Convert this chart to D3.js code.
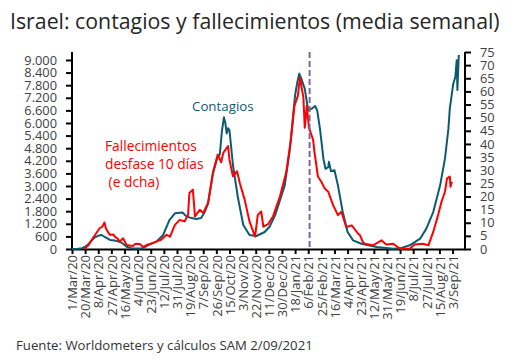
<!DOCTYPE html>
<html>
<head>
<meta charset="utf-8">
<script src="https://cdn.jsdelivr.net/npm/d3@7"></script>
<style>
  body { margin: 0; background: #fff; }
  text { font-family: "Open Sans", sans-serif; }
</style>
</head>
<body>
<svg id="chart" width="518" height="363"></svg>
<script>

// contagios, media semanal (eje izquierdo)
var casesDates = [
  "2020-03-01","2020-03-10","2020-03-16","2020-03-22","2020-03-28","2020-04-03","2020-04-09","2020-04-13",
  "2020-04-18","2020-04-25","2020-05-02","2020-05-09","2020-05-14","2020-05-19","2020-05-26","2020-06-05",
  "2020-06-11","2020-06-20","2020-07-01","2020-07-11","2020-07-20","2020-07-28","2020-08-04","2020-08-08",
  "2020-08-14","2020-08-21","2020-08-28","2020-09-04","2020-09-09","2020-09-14","2020-09-21","2020-09-27",
  "2020-10-01","2020-10-04","2020-10-07","2020-10-09","2020-10-11","2020-10-13","2020-10-15","2020-10-17",
  "2020-10-20","2020-10-27","2020-11-04","2020-11-13","2020-11-23","2020-12-05","2020-12-12","2020-12-20",
  "2021-01-03","2021-01-10","2021-01-18","2021-01-21","2021-01-24","2021-01-27","2021-02-01","2021-02-04",
  "2021-02-06","2021-02-11","2021-02-16","2021-02-19","2021-02-23","2021-02-28","2021-03-03","2021-03-07",
  "2021-03-08","2021-03-11","2021-03-16","2021-03-21","2021-03-28","2021-04-04","2021-04-12","2021-04-24",
  "2021-05-16","2021-06-09","2021-06-19","2021-07-03","2021-07-18","2021-07-27","2021-08-06","2021-08-16",
  "2021-08-23","2021-08-28","2021-08-30","2021-09-04","2021-09-07","2021-09-09","2021-09-10","2021-09-12"
];
var casesValues = [
  0, 10, 40, 150, 350, 560, 640, 667,
  560, 430, 400, 350, 250, 110, 40, 20,
  30, 200, 350, 670, 1380, 1700, 1730, 1740,
  1540, 1480, 1430, 1480, 1750, 2170, 3600, 4300,
  4500, 5600, 6270, 6000, 5500, 5750, 5650, 5000,
  4000, 2490, 1140, 670, 620, 810, 1060, 1600,
  3030, 4620, 7320, 7900, 8350, 8110, 7630, 7000,
  6600, 6680, 6810, 6600, 5730, 4300, 3820, 3900,
  4150, 3700, 3750, 3030, 1760, 810, 410, 250,
  95, 15, 30, 175, 490, 970, 1760, 3030,
  4300, 5730, 6680, 7870, 8190, 8990, 7570, 9240
];

// fallecimientos con desfase de 10 dias (eje derecho)
var deathsDates = [
  "2020-03-19","2020-03-25","2020-03-31","2020-04-05","2020-04-10","2020-04-14","2020-04-17","2020-04-19",
  "2020-04-22","2020-04-25","2020-04-30","2020-05-02","2020-05-06","2020-05-09","2020-05-14","2020-05-19",
  "2020-05-28","2020-06-01","2020-06-07","2020-06-12","2020-06-17","2020-06-25","2020-07-01","2020-07-08",
  "2020-07-16","2020-07-21","2020-07-28","2020-08-04","2020-08-11","2020-08-16","2020-08-18","2020-08-23",
  "2020-08-26","2020-09-02","2020-09-07","2020-09-14","2020-09-21","2020-09-28","2020-10-03","2020-10-06",
  "2020-10-13","2020-10-15","2020-10-20","2020-10-26","2020-10-30","2020-11-06","2020-11-13","2020-11-21",
  "2020-11-25","2020-11-30","2020-12-03","2020-12-10","2020-12-17","2020-12-27","2021-01-05","2021-01-12",
  "2021-01-17","2021-01-22","2021-01-25","2021-01-30","2021-02-01","2021-02-04","2021-02-07","2021-02-13",
  "2021-02-15","2021-02-18","2021-02-20","2021-02-25","2021-03-02","2021-03-07","2021-03-14","2021-03-21",
  "2021-03-26","2021-04-02","2021-04-10","2021-04-19","2021-04-22","2021-04-26","2021-04-29","2021-05-11",
  "2021-05-23","2021-05-30","2021-06-09","2021-06-19","2021-07-03","2021-07-10","2021-07-22","2021-07-30",
  "2021-08-06","2021-08-13","2021-08-18","2021-08-23","2021-08-26","2021-08-30","2021-08-31","2021-09-02"
];
var deathsValues = [
  0, 1.5, 4.1, 6, 7.9, 8.5, 10.1, 7.9,
  6.5, 5.4, 5.5, 4.7, 4.0, 2.8, 4.1, 1.5,
  1.1, 2.0, 1.9, 0.8, 1.5, 2.2, 2.8, 3.5,
  5.4, 4.7, 9.2, 11.1, 10.5, 13, 21.3, 22.6,
  12.4, 14.9, 13.7, 17.5, 29, 36, 33, 36.6,
  39.2, 34, 27.7, 29.6, 25, 18.8, 10.5, 4.7,
  13, 14.3, 8.5, 9.5, 12.4, 20, 29, 41.7,
  54.5, 58.3, 65.3, 57.7, 46.2, 54.5, 46.2, 41.7,
  37, 31.5, 27.6, 25.6, 23, 21.8, 16.7, 12.9,
  14.2, 8.4, 9, 5.9, 5.2, 2.7, 2.0, 1.4,
  3.3, 1.7, 2.0, 0.1, 0.1, 1.7, 2.0, 1.4,
  6.5, 12.9, 18, 21.8, 26.9, 27.6, 23.7, 25.6
];

var xTickDates = [
  "2020-03-01","2020-03-20","2020-04-08","2020-04-27","2020-05-16","2020-06-04","2020-06-23","2020-07-12",
  "2020-07-31","2020-08-19","2020-09-07","2020-09-26","2020-10-15","2020-11-03","2020-11-22","2020-12-11",
  "2020-12-30","2021-01-18","2021-02-06","2021-02-25","2021-03-16","2021-04-04","2021-04-23","2021-05-12",
  "2021-05-31","2021-06-19","2021-07-08","2021-07-27","2021-08-15","2021-09-03"
];
var leftTicks = [0, 600, 1200, 1800, 2400, 3000, 3600, 4200, 4800, 5400, 6000, 6600, 7200, 7800, 8400, 9000];
var rightTicks = [0, 5, 10, 15, 20, 25, 30, 35, 40, 45, 50, 55, 60, 65, 70, 75];

var markerDate = "2021-02-08";

var chart = {};

function setup() {
  var parse = d3.utcParse("%Y-%m-%d");
  var fmtX = d3.utcFormat("%-d/%b/%y");
  var fmtL = d3.formatLocale({decimal: ",", thousands: ".", grouping: [3], currency: ["", "€"]}).format(",");

  chart.plot = {left: 72, right: 465, top: 52, bottom: 249};

  chart.x = d3.scaleUtc()
      .domain([parse("2020-03-01"), parse("2021-09-21")])
      .range([chart.plot.left, chart.plot.right]);
  chart.yL = d3.scaleLinear().domain([0, 9380]).range([chart.plot.bottom, chart.plot.top]);
  chart.yR = d3.scaleLinear().domain([0, 75]).range([chart.plot.bottom, chart.plot.top]);

  var svg = d3.select("#chart");

  svg.append("text")
      .attr("x", 10).attr("y", 29)
      .attr("font-size", 21.3)
      .attr("fill", "#262626")
      .text("Israel: contagios y fallecimientos (media semanal)");

  svg.append("text")
      .attr("x", 16).attr("y", 350)
      .attr("font-size", 13.2)
      .attr("fill", "#333")
      .text("Fuente: Worldometers y cálculos SAM 2/09/2021");

  // axes
  var axL = svg.append("g")
      .attr("transform", `translate(${chart.plot.left},0)`)
      .call(d3.axisLeft(chart.yL).tickValues(leftTicks).tickFormat(fmtL).tickSize(6).tickPadding(9));
  var axR = svg.append("g")
      .attr("transform", `translate(${chart.plot.right},0)`)
      .call(d3.axisRight(chart.yR).tickValues(rightTicks).tickSize(6).tickPadding(9));
  var axX = svg.append("g")
      .attr("transform", `translate(0,${chart.plot.bottom})`)
      .call(d3.axisBottom(chart.x).tickValues(xTickDates.map(parse)).tickFormat(fmtX).tickSize(5).tickSizeOuter(0));

  axX.selectAll("text")
      .attr("transform", "rotate(-90)")
      .attr("text-anchor", "end")
      .attr("x", -6).attr("y", 0).attr("dy", "0.36em");

  [axL, axR, axX].forEach(a => {
    a.selectAll(".domain").attr("stroke", "#000").attr("stroke-width", 2);
    a.selectAll(".tick line").attr("stroke", "#000").attr("stroke-width", 2);
    a.selectAll("text").attr("font-family", "'Open Sans', sans-serif")
      .attr("font-size", 13).attr("fill", "#404040");
  });
  axL.selectAll("text").attr("font-size", 12.8);
  axR.selectAll("text").attr("font-size", 12.8);
  axL.select(".domain").attr("d", `M0,${chart.plot.top}V${chart.plot.bottom}`);
  axR.select(".domain").attr("d", `M0,${chart.plot.top}V${chart.plot.bottom}`);

  // series
  var cases = casesDates.map((d, i) => ({date: parse(d), v: casesValues[i]}));
  var deaths = deathsDates.map((d, i) => ({date: parse(d), v: deathsValues[i]}));

  svg.append("path")
      .datum(cases)
      .attr("fill", "none")
      .attr("stroke", "#0c5b73")
      .attr("stroke-width", 2)
      .attr("stroke-linejoin", "round")
      .attr("d", d3.line().x(d => chart.x(d.date)).y(d => chart.yL(d.v)));

  svg.append("path")
      .datum(deaths)
      .attr("fill", "none")
      .attr("stroke", "#ff0000")
      .attr("stroke-width", 2)
      .attr("stroke-linejoin", "round")
      .attr("d", d3.line().x(d => chart.x(d.date)).y(d => chart.yR(d.v)));

  // vertical marker
  var mx = chart.x(parse(markerDate));
  svg.append("line")
      .attr("x1", mx).attr("x2", mx)
      .attr("y1", chart.plot.top).attr("y2", chart.plot.bottom)
      .attr("stroke", "#8064a2")
      .attr("stroke-width", 2)
      .attr("stroke-dasharray", "6,3");

  // labels
  svg.append("text")
      .attr("x", 192).attr("y", 111)
      .attr("font-size", 13.3)
      .attr("fill", "#0c5b73")
      .text("Contagios");

  var red = svg.append("text")
      .attr("font-size", 13.8)
      .attr("fill", "#ff0000");
  red.append("tspan").attr("x", 105).attr("y", 151).text("Fallecimientos");
  red.append("tspan").attr("x", 105).attr("y", 169).text("desfase 10 días");
  red.append("tspan").attr("x", 105).attr("y", 187).text(" (e dcha)").attr("xml:space", "preserve");
}

window.addEventListener('load', setup)
</script>
</body>
</html>
